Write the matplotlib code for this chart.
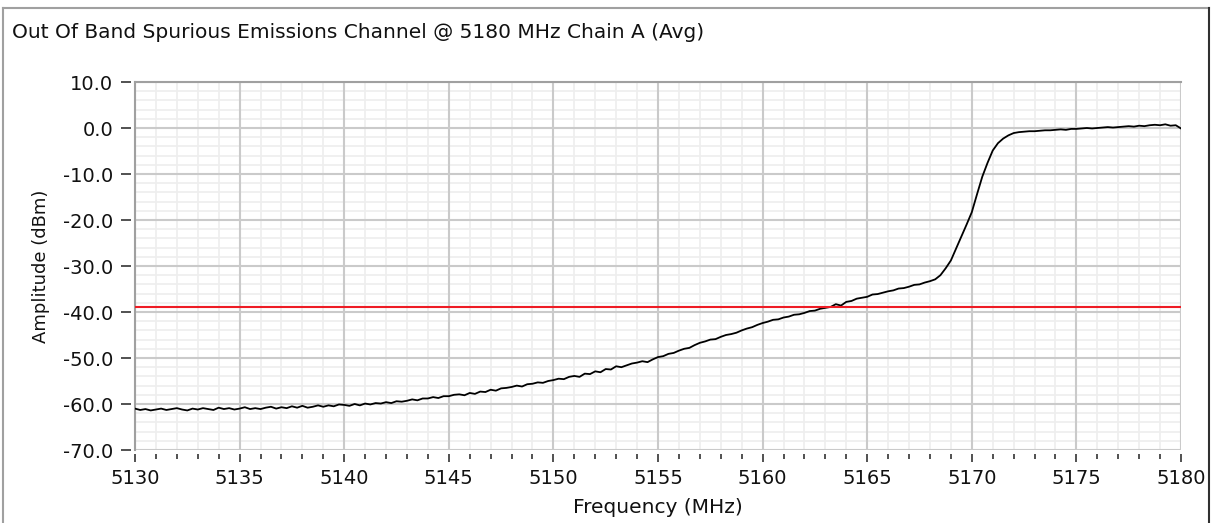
import matplotlib.pyplot as plt
from matplotlib.lines import Line2D
from matplotlib.ticker import MultipleLocator, FormatStrFormatter
import numpy as np

plt.rcParams['font.family'] = ['DejaVu Sans']

freq_start = 5130.0
freq_step = 0.25
amplitude = [
    -61.0, -61.3, -61.1, -61.4,  -61.2, -61.0, -61.3, -61.1,   # 5130, 5131
    -60.9, -61.2, -61.4, -61.0,  -61.2, -60.9, -61.1, -61.3,   # 5132, 5133
    -60.8, -61.1, -60.9, -61.2,  -61.0, -60.7, -61.1, -60.9,   # 5134, 5135
    -61.1, -60.8, -60.6, -61.0,  -60.7, -60.9, -60.5, -60.8,   # 5136, 5137
    -60.4, -60.8, -60.6, -60.3,  -60.6, -60.3, -60.5, -60.1,   # 5138, 5139
    -60.2, -60.4, -60.0, -60.3,  -59.9, -60.1, -59.8, -59.9,   # 5140, 5141
    -59.6, -59.8, -59.4, -59.5,  -59.3, -59.0, -59.2, -58.8,   # 5142, 5143
    -58.8, -58.5, -58.7, -58.3,  -58.3, -58.0, -57.9, -58.1,   # 5144, 5145
    -57.6, -57.8, -57.3, -57.4,  -56.9, -57.1, -56.6, -56.5,   # 5146, 5147
    -56.3, -56.0, -56.2, -55.7,  -55.6, -55.3, -55.4, -55.0,   # 5148, 5149
    -54.8, -54.5, -54.6, -54.1,  -53.9, -54.1, -53.4, -53.5,   # 5150, 5151
    -52.9, -53.1, -52.4, -52.5,  -51.8, -52.0, -51.6, -51.2,   # 5152, 5153
    -51.0, -50.7, -50.9, -50.3,  -49.8, -49.6, -49.1, -48.9,   # 5154, 5155
    -48.4, -48.0, -47.8, -47.2,  -46.7, -46.4, -46.0, -45.9,   # 5156, 5157
    -45.4, -45.0, -44.8, -44.5,  -44.0, -43.6, -43.3, -42.8,   # 5158, 5159
    -42.4, -42.1, -41.7, -41.6,  -41.2, -41.0, -40.6, -40.5,   # 5160, 5161
    -40.2, -39.8, -39.7, -39.3,  -39.1, -38.9, -38.3, -38.6,   # 5162, 5163
    -37.8, -37.6, -37.1, -36.9,  -36.7, -36.2, -36.1, -35.8,   # 5164, 5165
    -35.5, -35.3, -34.9, -34.8,  -34.5, -34.1, -34.0, -33.6,   # 5166, 5167
    -33.3, -32.9, -32.0, -30.5,  -28.8, -26.2, -23.6, -21.0,   # 5168, 5169
    -18.3, -14.4, -10.6, -7.6,   -4.9, -3.3, -2.3, -1.6,       # 5170, 5171
    -1.1, -0.9, -0.8, -0.7,      -0.7, -0.6, -0.5, -0.5,       # 5172, 5173
    -0.4, -0.3, -0.4, -0.2,      -0.2, -0.1, 0.0, -0.1,        # 5174, 5175
    0.0, 0.1, 0.2, 0.1,          0.2, 0.3, 0.4, 0.3,           # 5176, 5177
    0.5, 0.4, 0.6, 0.7,          0.6, 0.8, 0.5, 0.6,           # 5178, 5179
    -0.1,                                                      # 5180
]
freq = freq_start + freq_step * np.arange(len(amplitude))

limit_dbm = -39.0
title = 'Out Of Band Spurious Emissions Channel @ 5180 MHz Chain A (Avg)'

W, H = 1214, 523
fig = plt.figure(figsize=(W / 100, H / 100), dpi=100)
fig.patch.set_facecolor('white')

# plot area in pixels: left 135, right 1181, top 82, bottom 450
ax = fig.add_axes([135 / W, 1 - 450 / H, 1046 / W, 368 / H])
ax.set_xlim(5130, 5180)
ax.set_ylim(-70, 10)

ax.xaxis.set_major_locator(MultipleLocator(5))
ax.xaxis.set_minor_locator(MultipleLocator(1))
ax.yaxis.set_major_locator(MultipleLocator(10))
ax.yaxis.set_minor_locator(MultipleLocator(2))
ax.yaxis.set_major_formatter(FormatStrFormatter('%.1f'))
ax.xaxis.set_major_formatter(FormatStrFormatter('%d'))

# faint minor grid underneath, then the major grid on top of it (not on the edges)
ax.grid(which='minor', color='#eeeeee', linewidth=1.2)
ax.set_axisbelow(True)
for v in ax.get_xticks()[1:-1]:
    ax.axvline(v, color='#cacaca', lw=1.5, zorder=1)
for v in ax.get_yticks()[1:-1]:
    ax.axhline(v, color='#cacaca', lw=1.5, zorder=1)

for s in ['right', 'bottom', 'left']:
    ax.spines[s].set_visible(False)
ax.spines['top'].set_color('#a0a0a0')
ax.spines['top'].set_linewidth(1.5)
ax.spines['bottom'].set_position(('outward', 3))
ax.spines['left'].set_position(('outward', 3))
# left border of the plot area
ax.plot([0, 0], [0, 1], transform=ax.transAxes, color='#a0a0a0', lw=1.5, clip_on=False)

ax.tick_params(axis='x', which='major', length=6, width=1.1, color='#222222',
               labelsize=14, pad=5, labelcolor='#111111')
ax.tick_params(axis='x', which='minor', length=3.5, width=1.1, color='#222222')
ax.tick_params(axis='y', which='major', length=7, width=1.1, color='#222222',
               labelsize=14, pad=5.5, labelcolor='#111111')
ax.tick_params(axis='y', which='minor', length=0)

ax.plot(freq, amplitude, color='black', lw=1.3, zorder=3)
ax.axhline(limit_dbm, color='#ee1c25', lw=1.5, zorder=4)

fig.text(12 / W, 1 - 38 / H, title, fontsize=14.5, color='#111111', ha='left', va='baseline')
fig.text(658 / W, 1 - 513 / H, 'Frequency (MHz)', fontsize=14.5, color='#111111',
         ha='center', va='baseline')
fig.text(46 / W, 1 - 266 / H, 'Amplitude (dBm)', fontsize=13, color='#111111', rotation=90,
         rotation_mode='anchor', ha='center', va='baseline')

# window frame
fig.add_artist(Line2D([3 / W, 3 / W], [0, 1 - 8 / H], color='#a0a0a0', lw=1.5))
fig.add_artist(Line2D([3 / W, 1209 / W], [1 - 8 / H, 1 - 8 / H], color='#a0a0a0', lw=1.5))
fig.add_artist(Line2D([1209 / W, 1209 / W], [0, 1 - 8 / H], color='#303030', lw=1.5))

fig.savefig('out.png', dpi=100)
